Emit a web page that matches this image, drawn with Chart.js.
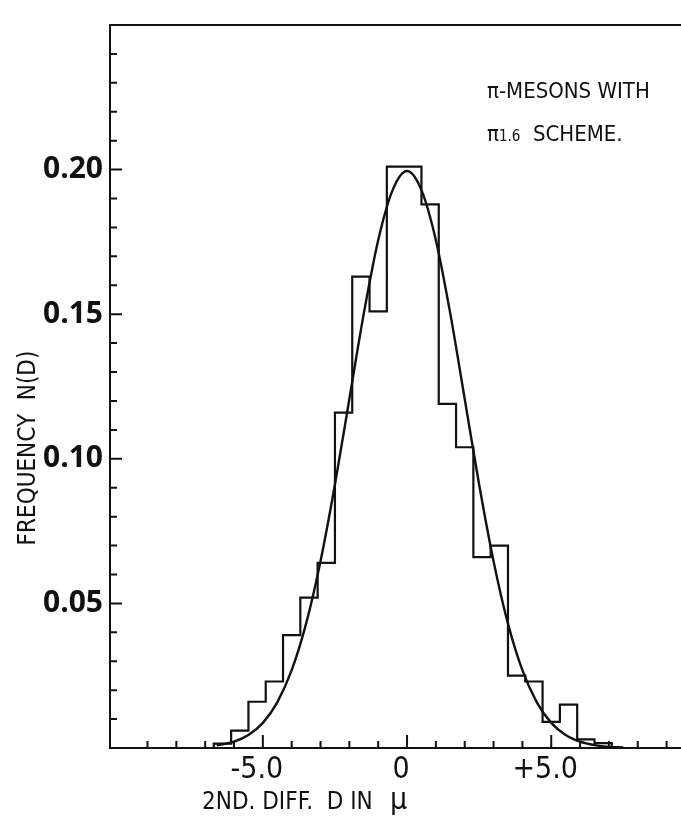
<!DOCTYPE html>
<html>
<head>
<meta charset="utf-8">
<script src="https://cdn.jsdelivr.net/npm/chart.js@4.4.1/dist/chart.umd.min.js"></script>
<style>
  html, body { margin: 0; padding: 0; background: #fff; }
  canvas { display: block; }
</style>
</head>
<body>
<canvas id="histo" width="681" height="824"></canvas>
<script>
// histogram: bin centres (bins 0.6 wide), empty bins at both ends
const binCentres = [-7.0, -6.4, -5.8, -5.2, -4.6, -4.0, -3.4, -2.8, -2.2, -1.6, -1.0, -0.4, 0.2, 0.8, 1.4, 2.0, 2.6, 3.2, 3.8, 4.4, 5.0, 5.6, 6.2, 6.8, 7.4];
const binFreq = [0, 0.0015, 0.006, 0.016, 0.023, 0.039, 0.052, 0.064, 0.116, 0.163, 0.151, 0.201, 0.201, 0.188, 0.119, 0.104, 0.066, 0.070, 0.025, 0.023, 0.009, 0.015, 0.003, 0.0017, 0];

// smooth curve drawn over it
const curveD = [-6.6, -6.0, -5.5, -5.0, -4.5, -4.0, -3.5, -3.0, -2.5, -2.0, -1.5, -1.0, -0.5, 0, 0.5, 1.0, 1.5, 2.0, 2.5, 3.0, 3.5, 4.0, 4.5, 5.0, 5.5, 6.0, 6.5, 7.0, 7.5];
const curveN = [0.0009, 0.0022, 0.0045, 0.0087, 0.0158, 0.0269, 0.043, 0.0646, 0.0911, 0.1207, 0.1502, 0.1756, 0.1929, 0.1995, 0.1929, 0.1756, 0.1502, 0.1207, 0.0911, 0.0646, 0.043, 0.0269, 0.0158, 0.0087, 0.0045, 0.0022, 0.001, 0.0004, 0.0002];

// labelled ticks
const xTickVals = [-5, 0, 5];
const xTickText = ["-5.0", "0", "+5.0"];
const yTickVals = [0.05, 0.10, 0.15, 0.20];
const yTickText = ["0.05", "0.10", "0.15", "0.20"];

const ink = "#111";
const cond = '"DejaVu Sans Condensed", "Liberation Sans Narrow", "DejaVu Sans", sans-serif';

// frame top, inward tick marks and the hand lettering
const paper = {
  id: "paper",
  afterDraw(chart) {
    const { ctx, chartArea: a, scales: { x, y } } = chart;
    ctx.save();
    ctx.strokeStyle = ink;
    ctx.lineWidth = 2;
    ctx.beginPath();
    ctx.moveTo(a.left, a.top);
    ctx.lineTo(a.right, a.top);
    for (let i = 1; i <= 24; i++) {
      const py = y.getPixelForValue(i / 100);
      const len = i % 5 === 0 ? 12 : 7;
      ctx.moveTo(a.left, py);
      ctx.lineTo(a.left + len, py);
    }
    for (let d = -9; d <= 9; d++) {
      const px = x.getPixelForValue(d);
      const len = d % 5 === 0 ? 13 : 7;
      ctx.moveTo(px, a.bottom);
      ctx.lineTo(px, a.bottom - len);
    }
    ctx.stroke();

    ctx.fillStyle = ink;
    ctx.textAlign = "left";
    ctx.textBaseline = "alphabetic";
    ctx.font = "22px " + cond;
    ctx.fillText("π-MESONS WITH", 487, 98);
    ctx.fillText("π", 487, 141);
    let w = ctx.measureText("π").width;
    ctx.font = "15px " + cond;
    ctx.fillText("1.6", 487 + w, 141);
    w += ctx.measureText("1.6").width;
    ctx.font = "22px " + cond;
    ctx.fillText("  SCHEME.", 487 + w, 141);

    ctx.font = "24px " + cond;
    ctx.fillText("2ND. DIFF.  D IN", 202, 809);
    w = ctx.measureText("2ND. DIFF.  D IN").width;
    ctx.font = "30px " + cond;
    ctx.fillText("  μ", 202 + w, 809);

    ctx.translate(29, 448);
    ctx.rotate(-Math.PI / 2);
    ctx.textAlign = "center";
    ctx.textBaseline = "middle";
    ctx.font = "24px " + cond;
    ctx.fillText("FREQUENCY  N(D)", 0, 0);
    ctx.restore();
  }
};

new Chart(document.getElementById("histo"), {
  type: "line",
  data: {
    datasets: [
      {
        label: "N(D)",
        data: binCentres.map((d, i) => ({ x: d, y: binFreq[i] })),
        stepped: "middle",
        borderColor: ink,
        borderWidth: 2.2,
        pointRadius: 0,
        fill: false,
      },
      {
        label: "curve",
        data: curveD.map((d, i) => ({ x: d, y: curveN[i] })),
        cubicInterpolationMode: "monotone",
        borderColor: ink,
        borderWidth: 2.4,
        pointRadius: 0,
        fill: false,
      },
    ],
  },
  options: {
    responsive: false,
    animation: false,
    devicePixelRatio: 1,
    layout: { padding: { top: 13, left: 0, right: 0, bottom: 0 } },
    plugins: { legend: { display: false }, tooltip: { enabled: false } },
    scales: {
      x: {
        type: "linear",
        min: -10.3,
        max: 9.5,
        grid: { display: false, drawTicks: false },
        border: { display: true, color: ink, width: 2 },
        afterBuildTicks: (s) => { s.ticks = xTickVals.map((v) => ({ value: v })); },
        afterFit: (s) => { s.height = 76; },
        ticks: {
          autoSkip: false,
          maxRotation: 0,
          padding: 4,
          labelOffset: -6,
          color: ink,
          font: { family: cond, size: 30 },
          callback: (v) => xTickText[xTickVals.indexOf(v)],
        },
      },
      y: {
        min: 0,
        max: 0.25,
        grid: { display: false, drawTicks: false },
        border: { display: true, color: ink, width: 2 },
        afterBuildTicks: (s) => { s.ticks = yTickVals.map((v) => ({ value: v })); },
        afterFit: (s) => { s.width = 110; },
        ticks: {
          padding: 7,
          color: ink,
          font: { family: '"Open Sans", sans-serif', size: 30, weight: "bold" },
          callback: (v) => yTickText[yTickVals.indexOf(v)],
        },
      },
    },
  },
  plugins: [paper],
});
</script>
</body>
</html>
